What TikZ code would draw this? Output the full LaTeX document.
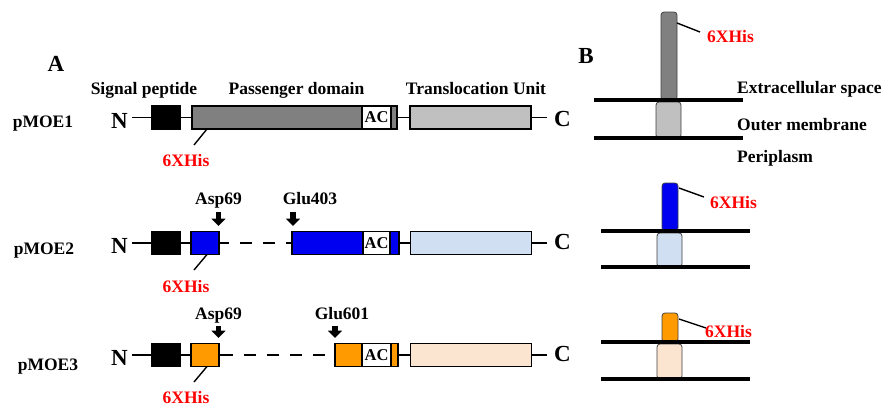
\documentclass[tikz,border=0pt]{standalone}
\usepackage{fontspec}
\setmainfont{Liberation Serif}
\usetikzlibrary{arrows.meta}
\definecolor{pgray}{HTML}{808080}
\definecolor{lgray}{HTML}{C0C0C0}
\definecolor{pblue}{HTML}{0000F0}
\definecolor{lblue}{HTML}{D0E0F2}
\definecolor{porange}{HTML}{FF9A00}
\definecolor{peach}{HTML}{FBE4D0}
\definecolor{hisred}{HTML}{FF0000}
\begin{document}
\begin{tikzpicture}[x=1pt,y=-1pt,
  lbl/.style={font=\fontsize{17.5}{20}\selectfont\bfseries, inner sep=0pt, anchor=base},
  lblw/.style={lbl, anchor=base west},
  bigl/.style={font=\fontsize{23}{26}\selectfont\bfseries, inner sep=0pt, anchor=base},
  his/.style={lbl, text=hisred},
  hisw/.style={lblw, text=hisred},
  seg/.style={draw, line width=1.6pt, minimum height=23pt, inner sep=0pt, outer sep=0pt},
  acbox/.style={seg, fill=white, font=\fontsize{16.5}{18}\selectfont\bfseries},
  link/.style={line width=1.6pt},
  dashlink/.style={line width=1.6pt, dash pattern=on 12pt off 11pt, dash phase=12pt},
  tick/.style={line width=1.4pt},
  memb/.style={line width=3.5pt},
  site/.style={line width=5.5pt, -{Triangle[width=14pt,length=7.5pt]}},
  barb/.style={draw=black!75, line width=0.8pt, rounded corners=3pt},
]
\useasboundingbox (0,0) rectangle (887,407);

% ---------- Panel A headings ----------
\node[bigl] (A) at (56,71) {A};
\node[lbl] (hsig) at (144,94) {Signal peptide};
\node[lbl] (hpass) at (296.5,94) {Passenger domain};
\node[lbl] (htu) at (476,94) {Translocation Unit};

% ---------- pMOE1 ----------
\node[lbl] (p1) at (43,127) {pMOE1};
\node[bigl] (N1) at (119.5,128) {N};
\node[seg, fill=black, minimum width=28pt] (sig1) at (166,117.5) {};
\node[seg, fill=pgray, minimum width=205pt] (pass1) at (294.5,117.5) {};
\node[acbox, minimum width=29pt] (ac1) at (376.5,117.5) {AC};
\node[seg, fill=lgray, minimum width=121pt] (tu1) at (470.5,117.5) {};
\node[bigl] (C1) at (562.5,126) {C};
\draw[link, shorten <=4pt] (N1.east |- sig1.west) -- (sig1.west);
\draw[link] (sig1.east) -- (pass1.west);
\draw[link] (pass1.east) -- (tu1.west);
\draw[link, shorten >=7pt] (tu1.east) -- (C1.west |- tu1.east);
\coordinate (h1a) at (207,129);
\coordinate (h1b) at (194,145);
\draw[tick] (h1a) -- (h1b);
\node[his] (his1) at (186,166) {6XHis};

% ---------- pMOE2 ----------
\node[lbl] (p2) at (44,254) {pMOE2};
\node[bigl] (N2) at (119.5,253) {N};
\node[seg, fill=black, minimum width=28pt] (sig2) at (166,243) {};
\node[seg, fill=pblue, minimum width=28pt] (pm2a) at (205,243) {};
\node[seg, fill=pblue, minimum width=107pt] (pm2b) at (345.5,243) {};
\node[acbox, minimum width=27pt] (ac2) at (376.5,243) {AC};
\node[seg, fill=lblue, minimum width=121pt] (tu2) at (471,243) {};
\node[bigl] (C2) at (562.5,249) {C};
\draw[link, shorten <=4pt] (N2.east |- sig2.west) -- (sig2.west);
\draw[link] (sig2.east) -- (pm2a.west);
\draw[link] (pm2a.east) -- ++(10,0) coordinate (d2);
\draw[dashlink] (d2) -- (pm2b.west);
\draw[link] (pm2b.east) -- (tu2.west);
\draw[link, shorten >=7pt] (tu2.east) -- (C2.west |- tu2.east);
\node[lbl] (asp2) at (218.5,204) {Asp69};
\node[lbl] (glu2) at (310,204) {Glu403};
\coordinate (a2t) at (218.5,226);
\coordinate (g2t) at (293,226);
\draw[site] (a2t |- 0,212) -- (a2t);
\draw[site] (g2t |- 0,212) -- (g2t);
\coordinate (h2a) at (207,254.5);
\coordinate (h2b) at (194,270);
\draw[tick] (h2a) -- (h2b);
\node[his] (his2) at (186,292) {6XHis};

% ---------- pMOE3 ----------
\node[lbl] (p3) at (48,370) {pMOE3};
\node[bigl] (N3) at (119.5,365) {N};
\node[seg, fill=black, minimum width=28pt] (sig3) at (166,355) {};
\node[seg, fill=porange, minimum width=28pt] (pm3a) at (205,355) {};
\node[seg, fill=porange, minimum width=63pt] (pm3b) at (366.5,355) {};
\node[acbox, minimum width=29pt] (ac3) at (376.5,355) {AC};
\node[seg, fill=peach, minimum width=121pt] (tu3) at (471,355) {};
\node[bigl] (C3) at (562.5,361) {C};
\draw[link, shorten <=4pt] (N3.east |- sig3.west) -- (sig3.west);
\draw[link] (sig3.east) -- (pm3a.west);
\draw[link] (pm3a.east) -- ++(14,0) coordinate (d3);
\draw[dashlink] (d3) -- (pm3b.west);
\draw[link] (pm3b.east) -- (tu3.west);
\draw[link, shorten >=7pt] (tu3.east) -- (C3.west |- tu3.east);
\node[lbl] (asp3) at (218.5,319) {Asp69};
\node[lbl] (glu3) at (342,319) {Glu601};
\coordinate (a3t) at (218.5,338);
\coordinate (g3t) at (335,338);
\draw[site] (a3t |- 0,325.5) -- (a3t);
\draw[site] (g3t |- 0,325.5) -- (g3t);
\coordinate (h3a) at (207,366.5);
\coordinate (h3b) at (194,382);
\draw[tick] (h3a) -- (h3b);
\node[his] (his3) at (186,403) {6XHis};

% ---------- Panel B ----------
\node[bigl] (B) at (586,63) {B};
\node[lblw] (ext) at (737,93) {Extracellular space};
\node[lblw] (om) at (737,130) {Outer membrane};
\node[lblw] (peri) at (737,162) {Periplasm};

% row 1
\draw[barb, fill=lgray] (656,138) rectangle (681,102);
\draw[barb, fill=pgray] (661,100) rectangle (677,12);
\draw[memb] (594,100) -- (743,100);
\draw[memb] (594,138) -- (743,138);
\draw[tick] (677,23) -- (700,32);
\node[hisw] (hisB1) at (707,42) {6XHis};

% row 2
\draw[barb, fill=lblue] (657,267) rectangle (682,233);
\draw[barb, fill=pblue] (662,231) rectangle (678,183);
\draw[memb] (601,231) -- (750,231);
\draw[memb] (601,267) -- (750,267);
\draw[tick] (679,188) -- (704,197);
\node[hisw] (hisB2) at (710,208) {6XHis};

% row 3
\draw[barb, fill=peach] (657,379) rectangle (682,344);
\draw[barb, fill=porange] (662,342) rectangle (678,313);
\draw[memb] (601,342) -- (750,342);
\draw[memb] (601,379) -- (750,379);
\draw[tick] (679,319) -- (706,328);
\node[hisw] (hisB3) at (705,337) {6XHis};
\end{tikzpicture}
\end{document}
